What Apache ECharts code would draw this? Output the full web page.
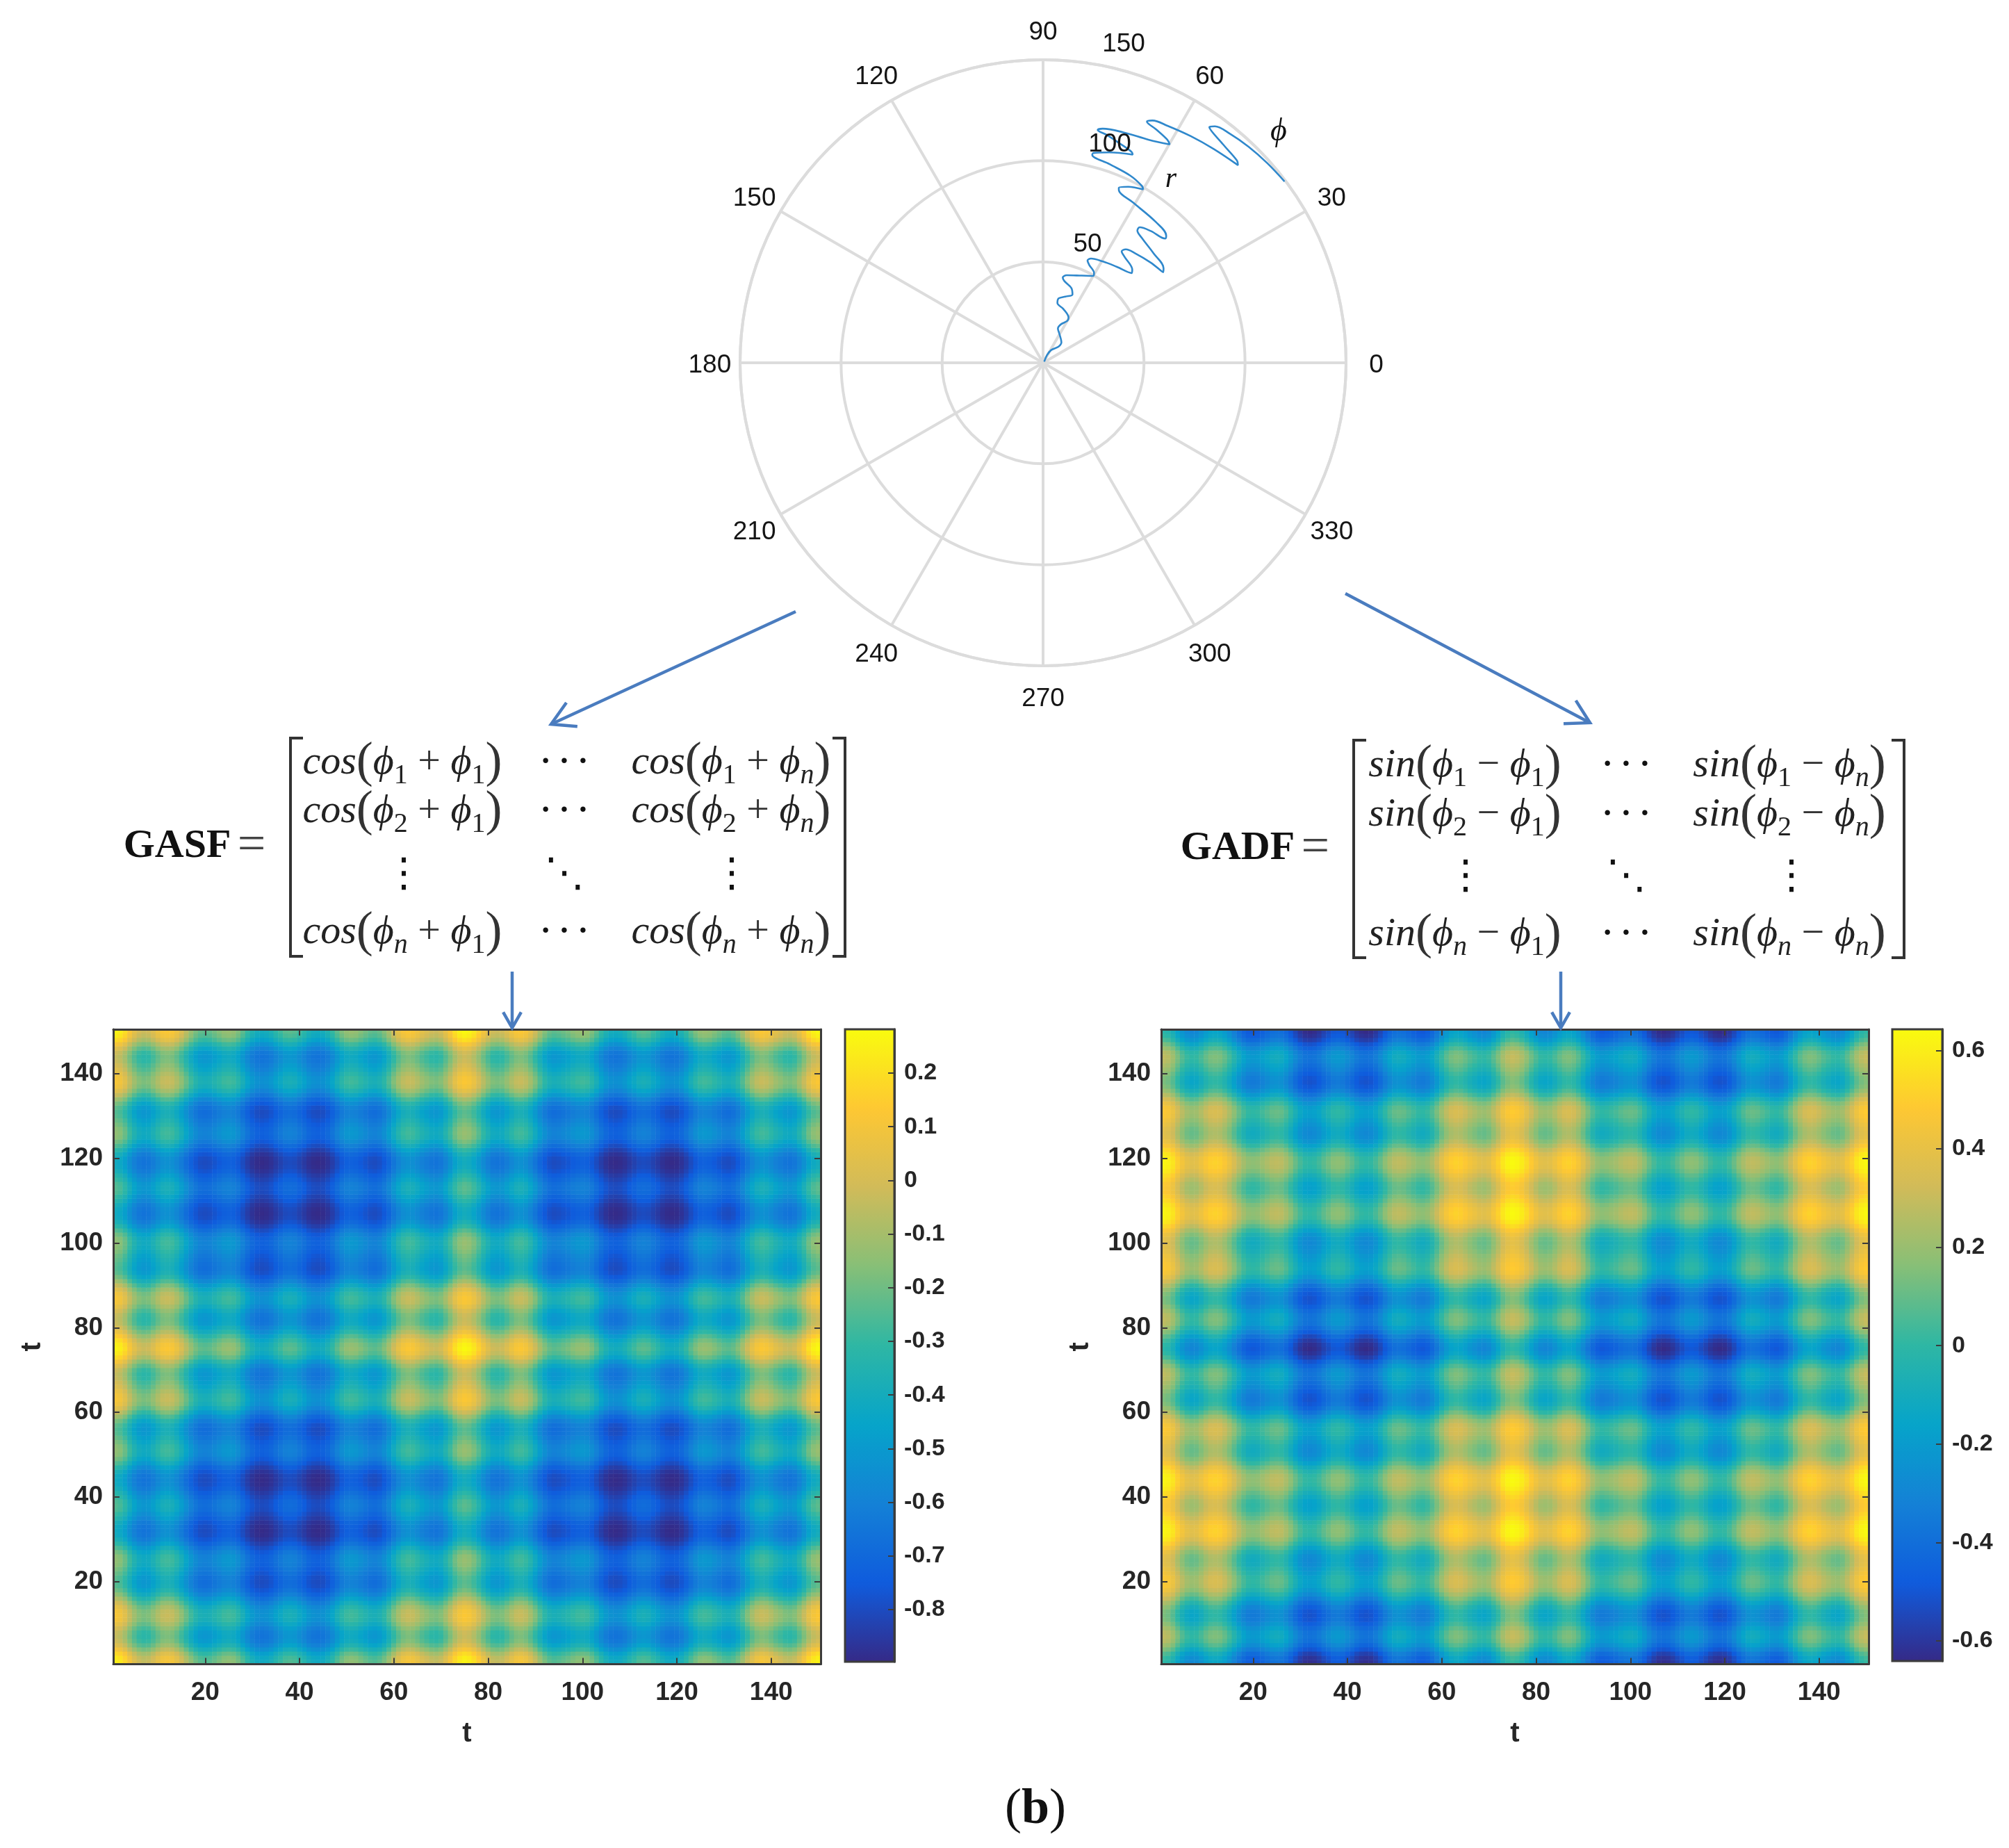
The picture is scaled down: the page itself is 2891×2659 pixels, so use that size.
<!DOCTYPE html>
<html><head><meta charset="utf-8">
<style>html,body{margin:0;padding:0;background:#fff}#c{width:2891px;height:2659px}</style>
<script src="https://cdn.jsdelivr.net/npm/echarts@6/dist/echarts.min.js"></script>
</head><body><div id="c"></div>
<script>
// phi(t) in radians for t = 1..150 (colour blobs + polar curve).
const phiRad = [
.66,.68,.73,.81,.88,.93,.95,.94,.90,.85,.81,.80,.81,.85,.91,.98,1.05,1.11,1.15,1.16,
1.15,1.12,1.09,1.06,1.05,1.06,1.10,1.16,1.23,1.29,1.33,1.34,1.33,1.30,1.25,1.21,1.17,1.16,
1.17,1.21,1.25,1.30,1.33,1.34,1.33,1.29,1.23,1.16,1.10,1.06,1.05,1.06,1.09,1.12,1.15,1.16,
1.14,1.09,1.02,.94,.87,.82,.80,.81,.84,.88,.91,.94,.95,.93,.87,.80,.72,.67,.645,
.66,.70,.76,.83,.89,.94,.95,.94,.90,.85,.81,.80,.82,.87,.94,1.02,1.09,1.14,1.16,
1.15,1.13,1.11,1.08,1.06,1.05,1.06,1.10,1.16,1.23,1.29,1.33,1.34,1.33,1.30,1.25,1.21,1.17,1.16,
1.17,1.21,1.25,1.30,1.33,1.34,1.33,1.29,1.23,1.16,1.10,1.06,1.05,1.06,1.09,1.12,1.15,1.16,
1.14,1.09,1.02,.94,.87,.82,.80,.81,.84,.88,.91,.94,.95,.93,.87,.80,.72,.67,.645];
// polar curve
const polarRadius = [.8,4.3,7.5,11.1,13.6,16.3,18.5,21,24,25.7,28.5,30.4,32.8,34.6,36.8,39.6,41.8,43.3,44.9,47.2,49.7,51.1,53.6,55.2,56.8,58.2,59.9,62.4,63.8,66.2,67.5,69.5,70.8,72.9,74.5,75.8,77,78.8,80.4,82.4,84.3,86.2,87.6,89.3,91,93.1,94.4,96.8,99.1,100.3,102.2,103.7,105.8,106.8,109.2,112.2,113.2,114.8,117.1,118.4,119.6,120.8,122.2,125,126.4,128.4,130,131.6,132.5,133.9,135.4,137.4,138.7,140.1,142.8,144.7,146.3,147.6,148.6,149.5];
const polarAngle = [45,62.7,57.5,46.3,48.1,60,66.6,65.1,59.9,60.6,69.5,76.5,76.4,71.3,66.7,69.3,75.4,77,74.9,66.1,59.9,60.4,64.8,66.5,65.3,59.6,52.6,45.4,46.2,52.5,54.8,53.9,50,42.7,37,38.1,44.8,51.6,54.5,54.5,50.6,45.5,45.9,51.3,60.8,66.2,66.6,64.2,60,60.8,65,71.5,76.7,76.5,72.5,66.7,67.2,70.3,74.3,76.8,75.7,70.8,64.6,59.9,60.9,64.2,66.7,65.7,62.3,56.9,51.4,45.4,46.2,50.5,54.8,54,50.8,46.4,41.7,36.9];
const angleTicks = [0,30,60,90,120,150,180,210,240,270,300,330];
const radiusTickLabels = ['50','100','150'];
const gasfRange = [-0.897, 0.2815];
const gadfRange = [-0.641, 0.643];
const gasfTicks = [-0.8,-0.7,-0.6,-0.5,-0.4,-0.3,-0.2,-0.1,0,0.1,0.2];
const gadfTicks = [-0.6,-0.4,-0.2,0,0.2,0.4,0.6];
const parula = ['#352a87','#0f5cdd','#1481d6','#06a4ca','#2eb7a4','#87bf77','#d1bb59','#fec832','#f9fb0e'];
const tLabels = phiRad.map((_, i) => String(i + 1));

// The figure's own definitions: GASF = cos(phi_i + phi_j), GADF = sin(phi_i - phi_j)
const gasfCells = [], gadfCells = [];
phiRad.forEach((py, j) => phiRad.forEach((px, i) => {
  gasfCells.push([i, j, Math.cos(px + py)]);
  gadfCells.push([i, j, Math.sin(py - px)]);
}));

const SANS = '"Liberation Sans", Arial, sans-serif';
const SERIF = '"Liberation Serif", "DejaVu Serif", serif';
const MATH = '"DejaVu Sans", sans-serif';
const INK = '#262626', FRAME = '#3c3c3c', GRID = '#dcdcdc', ARROW = '#4a7cbf';

const is20 = (idx, v) => Number(v) % 20 === 0;
function catAxis(gridIndex, position, main, name) {
  const horizontal = position === 'bottom' || position === 'top';
  return {
    type: 'category', gridIndex, position, data: tLabels, z: 5, boundaryGap: true,
    name: main ? name : '', nameLocation: 'middle', nameGap: horizontal ? 80 : 96,
    nameTextStyle: { fontFamily: SANS, fontWeight: 'bold', fontSize: 40, color: INK },
    axisLine: { show: true, onZero: false, lineStyle: { color: FRAME, width: 3 } },
    axisTick: { show: true, inside: true, length: 9, alignWithLabel: true, interval: is20, lineStyle: { color: FRAME, width: 2 } },
    axisLabel: { show: main, interval: is20, margin: horizontal ? 23 : 15, fontFamily: SANS, fontWeight: 'bold', fontSize: 37, color: INK,
      padding: horizontal ? 0 : [6, 0, 0, 0] },
    splitLine: { show: false }
  };
}
function barAxis(gridIndex, range, ticks) {
  return {
    type: 'value', gridIndex, position: 'right', min: range[0], max: range[1], z: 10, scale: true,
    axisLine: { show: true, onZero: false, lineStyle: { color: FRAME, width: 3 } },
    axisTick: { show: true, inside: true, length: 9, customValues: ticks, lineStyle: { color: FRAME, width: 2 } },
    axisLabel: { show: true, customValues: ticks, margin: 14, fontFamily: SANS, fontWeight: 'bold', fontSize: 34, color: INK,
      padding: [4, 0, 0, 0], formatter: v => String(Math.round(v * 10) / 10) },
    splitLine: { show: false }
  };
}
function heat(xi, yi, cells) {
  return { type: 'heatmap', xAxisIndex: xi, yAxisIndex: yi, data: cells, progressive: 0, animation: false,
    itemStyle: { borderWidth: 0 }, emphasis: { disabled: true }, silent: true };
}

// ---------- annotations ----------
const g = [];
const txt = (x, y, text, font, extra) => g.push({ type: 'text', x, y, silent: true, z: 20,
  style: Object.assign({ text, font, fill: '#111', align: 'center', verticalAlign: 'middle' }, extra || {}) });
const line = (pts, color, w) => g.push({ type: 'polyline', silent: true, z: 20,
  shape: { points: pts }, style: { stroke: color, lineWidth: w, fill: null, lineJoin: 'miter' } });
function arrow(x1, y1, x2, y2, len, w) {
  line([[x1, y1], [x2, y2]], ARROW, w);
  const a = Math.atan2(y2 - y1, x2 - x1), s = 0.52;
  line([[x2 - len * Math.cos(a - s), y2 - len * Math.sin(a - s)], [x2, y2],
        [x2 - len * Math.cos(a + s), y2 - len * Math.sin(a + s)]], ARROW, w);
}
arrow(1145, 880, 793, 1042, 38, 4.5);
arrow(1936, 854, 2288, 1040, 38, 4.5);
arrow(737, 1398, 737, 1479, 26, 4.5);
arrow(2246, 1398, 2246, 1479, 26, 4.5);

// radius labels of the polar plot, phi and r marks
const radiusLabelXY = [[1565, 352], [1597, 208], [1617, 64]];
radiusTickLabels.forEach((t, i) => txt(radiusLabelXY[i][0], radiusLabelXY[i][1], t, '37px ' + SANS, { fill: '#151515' }));
txt(1840, 190, '\u03D5', 'italic 46px ' + SERIF);
txt(1685, 258, 'r', 'italic 42px ' + SERIF);

const MSIZE = 58;
const rich = {
  f: { fontFamily: SERIF, fontStyle: 'italic', fontSize: MSIZE, lineHeight: 76, fill: '#222', verticalAlign: 'middle' },
  v: { fontFamily: SERIF, fontStyle: 'italic', fontSize: MSIZE, lineHeight: 76, fill: '#222', verticalAlign: 'middle' },
  p: { fontFamily: SERIF, fontSize: 72, lineHeight: 76, fill: '#333', verticalAlign: 'middle' },
  o: { fontFamily: SERIF, fontSize: MSIZE, lineHeight: 76, fill: '#333', verticalAlign: 'middle' },
  s: { fontFamily: SERIF, fontSize: 40, lineHeight: 76, fill: '#222', verticalAlign: 'bottom' },
  n: { fontFamily: SERIF, fontStyle: 'italic', fontSize: 40, lineHeight: 76, fill: '#222', verticalAlign: 'bottom' }
};
function entry(x, y, fn, a, op, b) {
  const sub = c => c === 'n' ? `{n|n}` : `{s|${c}}`;
  g.push({ type: 'text', x, y, silent: true, z: 20, style: { align: 'center', verticalAlign: 'middle', rich,
    text: `{f|${fn}}{p|(}{v|\u03D5}${sub(a)}{o| ${op} }{v|\u03D5}${sub(b)}{p|)}` } });
}
function matrix(o) {
  // brackets
  line([[o.l + 18, o.t], [o.l, o.t], [o.l, o.b], [o.l + 18, o.b]], '#333', 4);
  line([[o.r - 18, o.t], [o.r, o.t], [o.r, o.b], [o.r - 18, o.b]], '#333', 4);
  const rows = [['1', o.rows[0]], ['2', o.rows[1]], ['n', o.rows[2]]];
  rows.forEach(([c, y]) => {
    entry(o.c1, y, o.fn, c, o.op, '1');
    entry(o.c3, y, o.fn, c, o.op, 'n');
    txt(o.c2, y, '\u00B7 \u00B7 \u00B7', 'bold 46px ' + SERIF);
  });
  txt(o.d1, o.dy, '\u22EE', '58px ' + MATH);
  txt(o.c2, o.dy, '\u22F1', '58px ' + MATH);
  txt(o.d3, o.dy, '\u22EE', '58px ' + MATH);
  g.push({ type: 'text', x: o.lx, y: o.ly, silent: true, z: 20, style: { align: 'center', verticalAlign: 'middle',
    rich: { a: { fontFamily: SERIF, fontWeight: 'bold', fontSize: 58, fill: '#111' }, b: { fontFamily: SERIF, fontSize: 72, fill: '#444', padding: [0, 0, 0, 6] } },
    text: `{a|${o.label}} {b|=}` } });
}
matrix({ l: 418, r: 1216, t: 1062, b: 1376, c1: 579, c2: 812, c3: 1052, rows: [1098, 1168, 1342], dy: 1260, d1: 581, d3: 1053,
  fn: 'cos', op: '+', label: 'GASF', lx: 280, ly: 1218 });
matrix({ l: 1948, r: 2740, t: 1065, b: 1378, c1: 2108, c2: 2340, c3: 2575, rows: [1102, 1173, 1345], dy: 1263, d1: 2109, d3: 2578,
  fn: 'sin', op: '\u2212', label: 'GADF', lx: 1806, ly: 1221 });
g.push({ type: 'text', x: 1490, y: 2604, silent: true, z: 20, style: { align: 'center', verticalAlign: 'middle',
  rich: { a: { fontFamily: SERIF, fontSize: 72, fill: '#111' }, b: { fontFamily: SERIF, fontWeight: 'bold', fontSize: 72, fill: '#111' } },
  text: '{a|(}{b|b}{a|)}' } });

const barGrid = (left, width, height) => ({ left, top: 1481, width, height, z: 10, show: true,
  backgroundColor: 'transparent', borderColor: FRAME, borderWidth: 3 });
const angleLabelRadius = 165; // centre of each angle label sits on this radial position, as in the original
const option = {
  animation: false, backgroundColor: '#fff',
  polar: { center: [1501, 522], radius: 436 },
  angleAxis: { type: 'value', min: 0, max: 360, interval: 30, startAngle: 0, clockwise: false,
    axisLine: { show: true, lineStyle: { color: GRID, width: 4 } }, axisTick: { show: false }, axisLabel: { show: false },
    splitLine: { show: true, lineStyle: { color: GRID, width: 4 } } },
  radiusAxis: { type: 'value', min: 0, max: 150, interval: 50,
    axisLine: { show: false }, axisTick: { show: false }, axisLabel: { show: false },
    splitLine: { show: true, lineStyle: { color: GRID, width: 4 } } },
  grid: [
    { left: 163, top: 1481, width: 1018, height: 913.5 },
    { left: 1671, top: 1481, width: 1018, height: 913.5 },
    barGrid(1216, 71, 910),
    barGrid(2723, 72, 909)
  ],
  xAxis: [
    catAxis(0, 'bottom', true, 't'), catAxis(0, 'top', false),
    catAxis(1, 'bottom', true, 't'), catAxis(1, 'top', false),
    { type: 'value', gridIndex: 2, show: false, min: 0, max: 1 },
    { type: 'value', gridIndex: 3, show: false, min: 0, max: 1 }
  ],
  yAxis: [
    catAxis(0, 'left', true, 't'), catAxis(0, 'right', false),
    catAxis(1, 'left', true, 't'), catAxis(1, 'right', false),
    barAxis(2, gasfRange, gasfTicks), barAxis(3, gadfRange, gadfTicks)
  ],
  visualMap: [
    { type: 'continuous', seriesIndex: 0, min: gasfRange[0], max: gasfRange[1], calculable: false, realtime: false, hoverLink: false,
      orient: 'vertical', left: 1216, top: 1481, itemWidth: 71, itemHeight: 910, padding: 0, text: null, showLabel: false, inRange: { color: parula }, z: 4 },
    { type: 'continuous', seriesIndex: 1, min: gadfRange[0], max: gadfRange[1], calculable: false, realtime: false, hoverLink: false,
      orient: 'vertical', left: 2723, top: 1481, itemWidth: 72, itemHeight: 909, padding: 0, text: null, showLabel: false, inRange: { color: parula }, z: 4 }
  ],
  series: [
    heat(0, 0, gasfCells), heat(2, 2, gadfCells),
    { type: 'line', coordinateSystem: 'polar', showSymbol: false, smooth: 0.35, silent: true,
      data: polarRadius.map((r, i) => [r, polarAngle[i]]), lineStyle: { color: '#2f88cc', width: 2.6 }, z: 6 },
    { type: 'scatter', coordinateSystem: 'polar', symbolSize: 0, silent: true, clip: false,
      itemStyle: { opacity: 1 },
      data: angleTicks.map(a => [angleLabelRadius, a]),
      label: { show: true, position: 'inside', offset: [0, 4], align: 'center', verticalAlign: 'middle',
        fontFamily: SANS, fontSize: 37, color: '#151515', opacity: 1, formatter: p => String(p.value[1]) } }
  ],
  graphic: { elements: g }
};
const chart = echarts.init(document.getElementById('c'), null, { renderer: 'canvas', width: 2891, height: 2659 });
chart.setOption(option);
</script></body></html>
